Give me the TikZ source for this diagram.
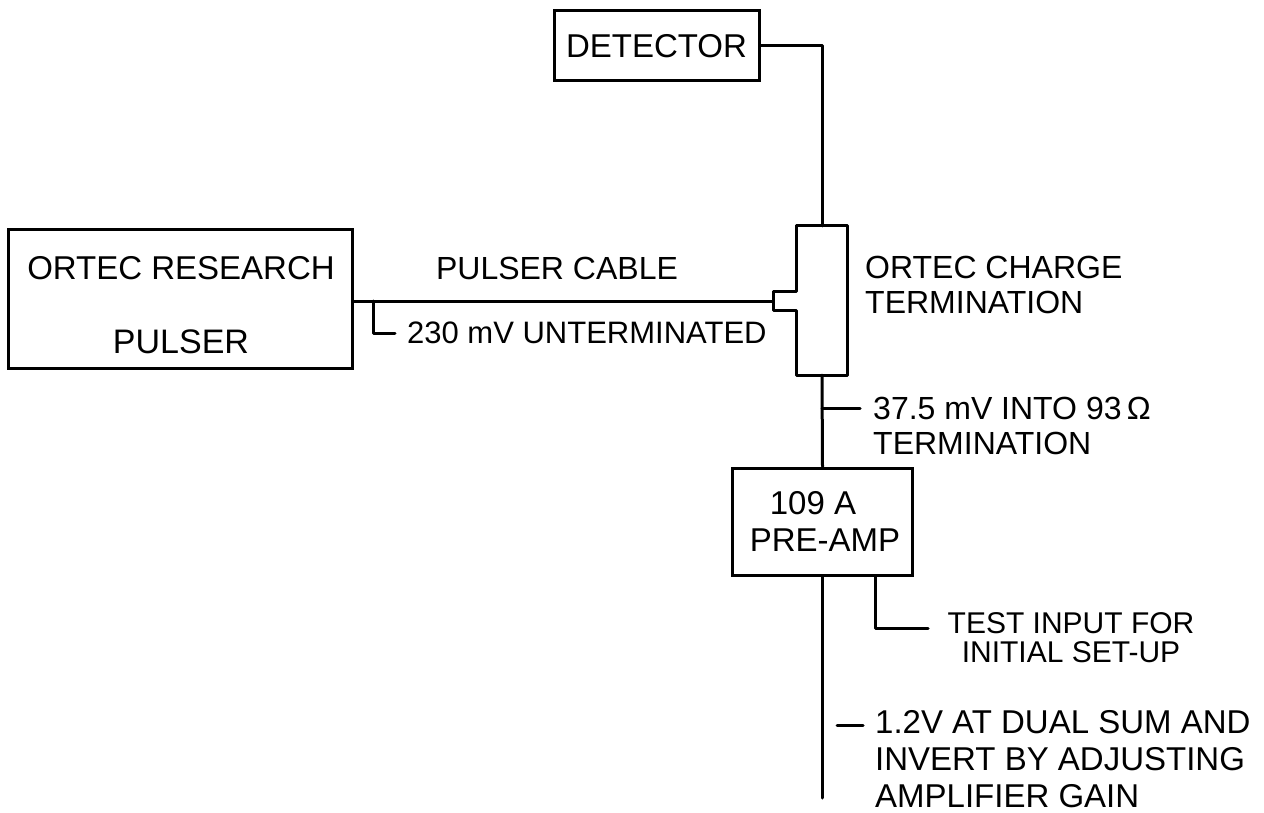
\documentclass[tikz,border=0pt]{standalone}
\usepackage{fontspec}
\setmainfont{Liberation Sans}
\begin{document}
\begin{tikzpicture}[x=1pt,y=-1pt,
  wire/.style={line width=3pt, line cap=round, line join=round},
  box/.style={draw, line width=3pt, inner sep=0pt},
  lbl/.style={inner sep=0pt, align=left, font=\fontsize{32}{35}\selectfont},
  lbls/.style={inner sep=0pt, align=left, font=\fontsize{30}{29}\selectfont},
  lblb/.style={inner sep=0pt, align=left, font=\fontsize{33}{36}\selectfont}]
\useasboundingbox (0,0) rectangle (1264,813);
% boxes
\node[box, minimum width=205pt, minimum height=70pt] (det) at (656.5,46) {};
\node[lblb] (tdet) at (656.5,46) {DETECTOR};
\node[box, minimum width=344pt, minimum height=138pt] (pul) at (180,299) {};
\node[lblb] (tpul1) at (181,268) {ORTEC RESEARCH};
\node[font=\fontsize{34}{36}\selectfont, inner sep=0pt] (tpul2) at (181,342) {PULSER};
\node[inner sep=0pt, minimum width=51pt, minimum height=149pt] (ct) at (822,300.5) {};
\node[box, minimum width=180pt, minimum height=107pt] (pre) at (822.5,521.5) {};
\node[lblb] (tpre1) at (813,503) {109 A};
\node[lblb] (tpre2) at (825,540) {PRE-AMP};
% charge termination outline with its input stub
\coordinate (stub) at (773,301);
\draw[wire] (ct.north west) -- (ct.west |- 0,291) -| (773,310) -- (ct.west |- 0,310)
  -- (ct.south west) -- (ct.south east) -- (ct.north east) -- cycle;
% connectors
\draw[wire] (pul.east |- stub) -- (stub);
\coordinate (lt) at (373,301);
\draw[wire] (lt) |- (395,333);
\draw[wire] (det.east) -| (ct.north);
\draw[wire] (ct.south) -- (pre.north);
\coordinate (t375) at (822,408);
\draw[wire] (t375) -- (860,408);
\coordinate (bot) at (822.5,798);
\draw[wire] (pre.south) -- (bot);
\coordinate (tst) at (928,628);
\draw[wire] (pre.south -| 875,0) |- (tst);
\coordinate (d1) at (837,725);
\coordinate (d2) at (863,725);
\draw[wire] (d1) -- (d2);
% labels
\node[lbl] (lcable) at (557,268) {PULSER CABLE};
\node[lbls, anchor=west, font=\fontsize{31}{29}\selectfont] (lunt) at (407,333) {230 mV UNTERMINATED};
\node[lbl, anchor=west] (lct) at (865,284.5) {ORTEC CHARGE\\TERMINATION};
\node[lbl, anchor=west] (l375) at (873,425.5) {37.5 mV INTO 93\,Ω\\TERMINATION};
\node[lbls, align=center] (ltest) at (1071,637.5) {TEST INPUT FOR\\INITIAL SET-UP};
\node[lbl, anchor=west, font=\fontsize{33}{37}\selectfont] (lgain) at (875,759) {1.2V AT DUAL SUM AND\\INVERT BY ADJUSTING\\AMPLIFIER GAIN};
\end{tikzpicture}
\end{document}
